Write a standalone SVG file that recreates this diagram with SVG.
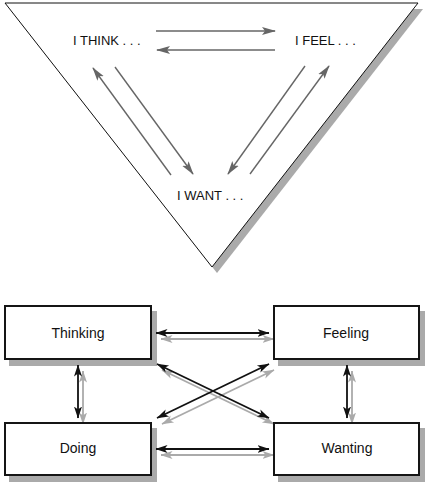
<svg xmlns="http://www.w3.org/2000/svg" width="429" height="485" viewBox="0 0 429 485">
<defs>
<style>
.lbl{font-family:"Liberation Sans",Arial,sans-serif;font-size:13px;fill:#111}
.box-lbl{font-family:"Liberation Sans",Arial,sans-serif;font-size:14px;fill:#111;text-anchor:middle}
.box{fill:#fff;stroke:#151515;stroke-width:2}
.shadow{fill:#aaaaaa;stroke:none}
.ga{stroke:#666;stroke-width:1.4;fill:none;marker-end:url(#hg)}
.ba{stroke:#111;stroke-width:1.8;fill:none;marker-start:url(#hb);marker-end:url(#hb)}
.sa{stroke:#aaa;stroke-width:1.8;fill:none;marker-start:url(#hs);marker-end:url(#hs)}
</style>
<marker id="hg" markerUnits="userSpaceOnUse" markerWidth="14" markerHeight="10" viewBox="0 0 14 10" refX="13" refY="5" orient="auto">
<path d="M0,1 L14,5 L0,9 L3,5 z" fill="#666"/>
</marker>
<marker id="hb" markerUnits="userSpaceOnUse" markerWidth="12" markerHeight="10" viewBox="0 0 12 10" refX="11.5" refY="5" orient="auto-start-reverse">
<path d="M0,1 L12,5 L0,9 L3,5 z" fill="#111"/>
</marker>
<marker id="hs" markerUnits="userSpaceOnUse" markerWidth="12" markerHeight="10" viewBox="0 0 12 10" refX="11.5" refY="5" orient="auto-start-reverse">
<path d="M0,1 L12,5 L0,9 L3,5 z" fill="#aaa"/>
</marker>
</defs>
<rect width="429" height="485" fill="#fff"/>

<g id="triangle">
<polygon points="10,9 423,9 217,273" fill="#aaaaaa"/>
<polygon points="5,3 418,3 212,267" fill="#fff" stroke="#111" stroke-width="1"/>
</g>
<g id="think"><text class="lbl" x="73" y="45">I THINK . . .</text></g>
<g id="feel"><text class="lbl" x="295" y="45">I FEEL . . .</text></g>
<g id="want"><text class="lbl" x="177" y="200">I WANT . . .</text></g>
<g id="triangle-connectors">
<line class="ga" x1="156" y1="31" x2="275" y2="31"/>
<line class="ga" x1="275" y1="50" x2="157" y2="50"/>
<line class="ga" x1="171" y1="175" x2="93" y2="68"/>
<line class="ga" x1="115" y1="67" x2="193" y2="174"/>
<line class="ga" x1="305" y1="66" x2="228" y2="174"/>
<line class="ga" x1="250" y1="174" x2="329" y2="66"/>
</g>

<g id="shadows">
<rect class="shadow" x="9" y="311" width="148" height="55"/>
<rect class="shadow" x="278" y="311" width="147" height="55"/>
<rect class="shadow" x="9" y="428" width="148" height="54"/>
<rect class="shadow" x="278" y="428" width="147" height="54"/>
<line class="sa" x1="161" y1="339" x2="274" y2="339"/>
<line class="sa" x1="161" y1="455" x2="274" y2="455"/>
<line class="sa" x1="162" y1="370" x2="274" y2="424"/>
<line class="sa" x1="162" y1="424" x2="274" y2="370"/>
<line class="sa" x1="83" y1="371" x2="83" y2="424"/>
<line class="sa" x1="352" y1="371" x2="352" y2="424"/>
</g>

<g id="thinking">
<rect class="box" x="5" y="306" width="146" height="53"/>
<text class="box-lbl" x="78" y="338">Thinking</text>
</g>
<g id="feeling">
<rect class="box" x="274" y="306" width="145" height="53"/>
<text class="box-lbl" x="346" y="338">Feeling</text>
</g>
<g id="doing">
<rect class="box" x="5" y="423" width="146" height="52"/>
<text class="box-lbl" x="78" y="453">Doing</text>
</g>
<g id="wanting">
<rect class="box" x="274" y="423" width="145" height="52"/>
<text class="box-lbl" x="347" y="453">Wanting</text>
</g>

<g id="connectors">
<line class="ba" x1="156" y1="333" x2="269" y2="333"/>
<line class="ba" x1="156" y1="449" x2="269" y2="449"/>
<line class="ba" x1="157" y1="364" x2="269" y2="418"/>
<line class="ba" x1="157" y1="418" x2="269" y2="364"/>
<line class="ba" x1="78" y1="365" x2="78" y2="418"/>
<line class="ba" x1="347" y1="365" x2="347" y2="418"/>
</g>
</svg>
